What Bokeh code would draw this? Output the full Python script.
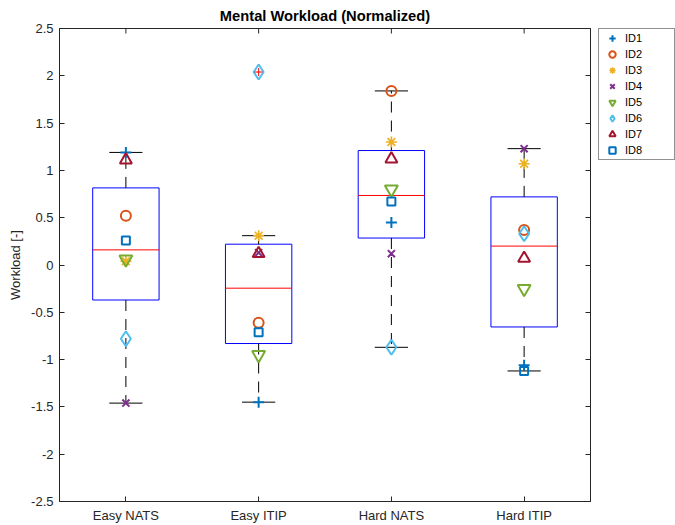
import math
from bokeh.plotting import figure
from bokeh.layouts import row
from bokeh.models import FixedTicker, LinearAxis, Legend, LegendItem, Range1d
from bokeh.embed import file_html
from bokeh.resources import INLINE

# ---------------- data ----------------
categories = ["Easy NATS", "Easy ITIP", "Hard NATS", "Hard ITIP"]
participants = ["ID1", "ID2", "ID3", "ID4", "ID5", "ID6", "ID7", "ID8"]
ID1 = [1.19, -1.45, 0.45, -1.06]
ID2 = [0.52, -0.61, 1.84, 0.37]
ID3 = [0.04, 0.31, 1.30, 1.07]
ID4 = [-1.46, 0.13, 0.12, 1.23]
ID5 = [0.06, -0.95, 0.80, -0.25]
ID6 = [-0.78, 2.04, -0.87, 0.33]
ID7 = [1.11, 0.12, 1.12, 0.07]
ID8 = [0.26, -0.71, 0.67, -1.12]
series = [ID1, ID2, ID3, ID4, ID5, ID6, ID7, ID8]
y_ticks = [-2.5, -2, -1.5, -1, -0.5, 0, 0.5, 1, 1.5, 2, 2.5]
y_tick_labels = ["-2.5", "-2", "-1.5", "-1", "-0.5", "0", "0.5", "1", "1.5", "2", "2.5"]

# ---------------- styles ----------------
FONT = "Liberation Sans"
AX = "#262626"
markers = ["cross", "circle", "asterisk", "x", "inverted_triangle", "diamond", "triangle", "square"]
colors = ["#0072BD", "#D95319", "#EDB120", "#7E2F8E", "#77AC30", "#4DBEEE", "#A2142F", "#0072BD"]
sizes = [11, 10, 11, 10, 13, 15, 12, 8]
lwidths = [2, 2, 1.6, 2, 2, 2, 2, 2]

positions = [i + 1 for i in range(len(categories))]


def prctile(s, p):
    n = len(s)
    k = n * p / 100.0 + 0.5
    if k <= 1:
        return s[0]
    if k >= n:
        return s[-1]
    lo = int(math.floor(k))
    f = k - lo
    return s[lo - 1] + f * (s[lo] - s[lo - 1])


q1s, meds, q3s, wlo, whi, out_x, out_y = [], [], [], [], [], [], []
for ci, pos in enumerate(positions):
    vals = sorted(s[ci] for s in series)
    q1 = prctile(vals, 25)
    med = prctile(vals, 50)
    q3 = prctile(vals, 75)
    iqr = q3 - q1
    hi_lim = q3 + 1.5 * iqr
    lo_lim = q1 - 1.5 * iqr
    inside = [v for v in vals if lo_lim <= v <= hi_lim]
    q1s.append(q1); meds.append(med); q3s.append(q3)
    wlo.append(min(inside)); whi.append(max(inside))
    for v in vals:
        if v < lo_lim or v > hi_lim:
            out_x.append(pos); out_y.append(v)

p = figure(width=598, height=525,
           x_range=Range1d(0.5, 4.5), y_range=Range1d(-2.5, 2.5),
           output_backend="svg", toolbar_location=None,
           min_border_left=59, min_border_right=8, min_border_top=28, min_border_bottom=24,
           title="Mental Workload (Normalized)")
p.xgrid.visible = False
p.ygrid.visible = False
p.outline_line_color = AX
p.outline_line_width = 1
p.background_fill_color = "white"
p.border_fill_color = "white"

p.title.text_font = FONT
p.title.text_font_size = "14.7px"
p.title.text_font_style = "bold"
p.title.text_color = "#000000"
p.title.align = "center"
p.title.standoff = 10


def style_axis(ax):
    ax.axis_line_color = AX
    ax.major_tick_line_color = AX
    ax.major_tick_in = 5
    ax.major_tick_out = 0
    ax.minor_tick_line_color = None
    ax.major_label_text_font = FONT
    ax.major_label_text_font_size = "13px"
    ax.major_label_text_color = AX


xa = p.xaxis[0]
style_axis(xa)
xa.ticker = FixedTicker(ticks=positions)
xa.major_label_overrides = {pos: c for pos, c in zip(positions, categories)}
xa.major_label_standoff = 6

ya = p.yaxis[0]
style_axis(ya)
ya.ticker = FixedTicker(ticks=y_ticks)
ya.major_label_overrides = {t: l for t, l in zip(y_ticks, y_tick_labels)}
ya.major_label_standoff = 6
ya.axis_label = "Workload [-]"
ya.axis_label_text_font = FONT
ya.axis_label_text_font_size = "13px"
ya.axis_label_text_font_style = "normal"
ya.axis_label_text_color = AX
ya.axis_label_standoff = 5

# mirrored inward ticks on the right (box on)
ra = LinearAxis(ticker=FixedTicker(ticks=y_ticks))
style_axis(ra)
ra.major_label_overrides = {t: "" for t in y_ticks}
ra.major_label_standoff = 0
p.add_layout(ra, "right")

# ---------------- boxplot ----------------
half_box = 0.25
half_cap = 0.125
left = [x - half_box for x in positions]
right = [x + half_box for x in positions]
p.quad(left=left, right=right, bottom=q1s, top=q3s, fill_alpha=0, line_color="#0000FF", line_width=1)
p.segment(x0=positions, x1=positions, y0=q3s, y1=whi, line_color="#000000", line_width=1, line_dash="11 8")
p.segment(x0=positions, x1=positions, y0=q1s, y1=wlo, line_color="#000000", line_width=1, line_dash="11 8")
p.segment(x0=[x - half_cap for x in positions], x1=[x + half_cap for x in positions], y0=whi, y1=whi,
          line_color="#000000", line_width=1)
p.segment(x0=[x - half_cap for x in positions], x1=[x + half_cap for x in positions], y0=wlo, y1=wlo,
          line_color="#000000", line_width=1)
p.segment(x0=left, x1=right, y0=meds, y1=meds, line_color="#FF0000", line_width=1)
# top inward ticks at the categories
p.segment(x0=positions, x1=positions, y0=[2.5] * 4, y1=[2.5 - 5 * 5.0 / 473] * 4,
          line_color=AX, line_width=1)

# ---------------- participant markers ----------------
for name, vals, m, c, s, lw in zip(participants, series, markers, colors, sizes, lwidths):
    p.scatter(x=positions, y=vals, marker=m, size=s, line_color=c, fill_alpha=0,
              line_width=lw, fill_color=None)

p.scatter(x=out_x, y=out_y, marker="cross", size=8, line_color="#FF0000", line_width=1)

# ---------------- legend (separate narrow panel to the right) ----------------
pl = figure(width=77, height=525, x_range=Range1d(0, 1), y_range=Range1d(10, 11),
            x_axis_type=None, y_axis_type=None,
            output_backend="svg", toolbar_location=None,
            min_border_left=0, min_border_right=0, min_border_top=27, min_border_bottom=0)
pl.xgrid.visible = False
pl.ygrid.visible = False
pl.outline_line_color = None
pl.background_fill_color = "white"
pl.border_fill_color = "white"

items = []
for name, vals, m, c, s, lw in zip(participants, series, markers, colors, sizes, lwidths):
    # same data as the main plot; this panel's range keeps the points out of view
    r = pl.scatter(x=positions, y=vals, marker=m, size=s, line_color=c, fill_color=None, line_width=lw)
    items.append(LegendItem(label=name, renderers=[r]))

legend = Legend(items=items, location="top_left")
legend.padding = 1
legend.spacing = 0
legend.glyph_width = 24
legend.glyph_height = 16
legend.label_height = 16
legend.label_width = 48
legend.label_standoff = 1
legend.margin = 0
legend.label_text_font = FONT
legend.label_text_font_size = "11px"
legend.label_text_color = "#000000"
legend.border_line_color = AX
legend.border_line_width = 1
legend.background_fill_color = "white"
legend.background_fill_alpha = 1
pl.add_layout(legend)

layout = row(p, pl)
open("out.html", "w").write(file_html(layout, INLINE))
